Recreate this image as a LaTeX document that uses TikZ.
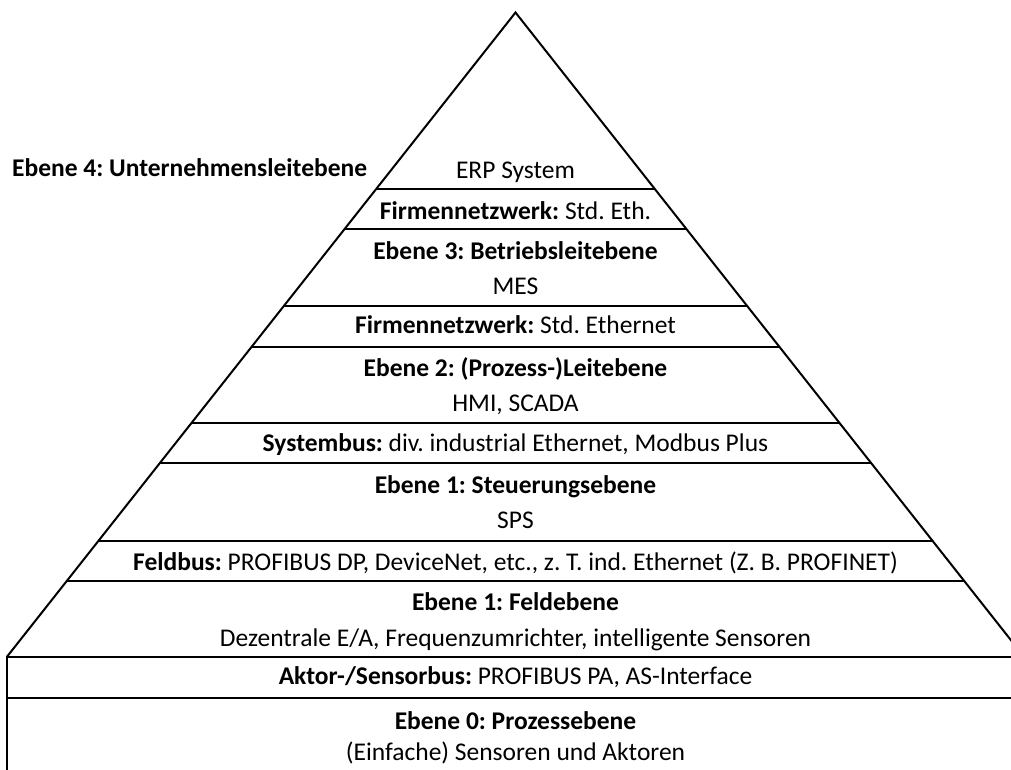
\documentclass[tikz,border=0pt]{standalone}
\usepackage{fontspec}
\setmainfont{Carlito}
\begin{document}
\frenchspacing
\begin{tikzpicture}[x=1pt,y=-1pt,
  lvl/.style={anchor=base,inner sep=0pt,font=\fontsize{25.5}{30}\selectfont},
  side/.style={anchor=base west,inner sep=0pt,font=\fontsize{25.5}{30}\selectfont\bfseries},
  edge/.style={line width=2pt,line join=miter}]
\useasboundingbox (0,0) rectangle (1011,769);
\clip (0,0) rectangle (1011,769);
\coordinate (apex) at (515.5,12.5);
\coordinate (bl) at (7,656.7);
\coordinate (br) at (1024,656.7);
% pyramid
\draw[edge] (bl) -- (apex) -- (br);
% band lines inside the pyramid
\foreach \yy in {189,229.3,305.7,346.7,423.3,463.3,541,580.7}{
  \draw[edge] ({515.5-(\yy-12.5)*0.7898},\yy) -- ({515.5+(\yy-12.5)*0.7898},\yy);
}
% base rectangle
\draw[edge] (1030,656.7) -- (bl) -- (7,790);
\draw[edge] (7,697.7) -- (1030,697.7);
% texts
\node[side] (l4) at (12,176) {Ebene 4: Unternehmensleitebene};
\node[lvl] (erp) at (515.5,178) {ERP System};
\node[lvl] (fn1) at (515.5,219) {\textbf{Firmennetzwerk:} Std. Eth.};
\node[lvl] (e3) at (515.5,259) {\textbf{Ebene 3: Betriebsleitebene}};
\node[lvl] (mes) at (515.5,294) {MES};
\node[lvl] (fn2) at (515.5,333.5) {\textbf{Firmennetzwerk:} Std. Ethernet};
\node[lvl] (e2) at (515.5,376) {\textbf{Ebene 2: (Prozess-)Leitebene}};
\node[lvl] (hmi) at (515.5,411.5) {HMI, SCADA};
\node[lvl] (sb) at (515.5,451) {\textbf{Systembus:} div. industrial Ethernet, Modbus Plus};
\node[lvl] (e1s) at (515.5,493.5) {\textbf{Ebene 1: Steuerungsebene}};
\node[lvl] (sps) at (515.5,528.5) {SPS};
\node[lvl] (fb) at (515.5,570.5) {\textbf{Feldbus:} PROFIBUS DP, DeviceNet, etc., z. T. ind. Ethernet (Z. B. PROFINET)};
\node[lvl] (e1f) at (515.5,610) {\textbf{Ebene 1: Feldebene}};
\node[lvl] (dez) at (515.5,646) {Dezentrale E/A, Frequenzumrichter, intelligente Sensoren};
\node[lvl] (as) at (515.5,684.5) {\textbf{Aktor-/Sensorbus:} PROFIBUS PA, AS-Interface};
\node[lvl] (e0) at (515.5,729) {\textbf{Ebene 0: Prozessebene}};
\node[lvl] (ein) at (515.5,760) {(Einfache) Sensoren und Aktoren};
\end{tikzpicture}
\end{document}
